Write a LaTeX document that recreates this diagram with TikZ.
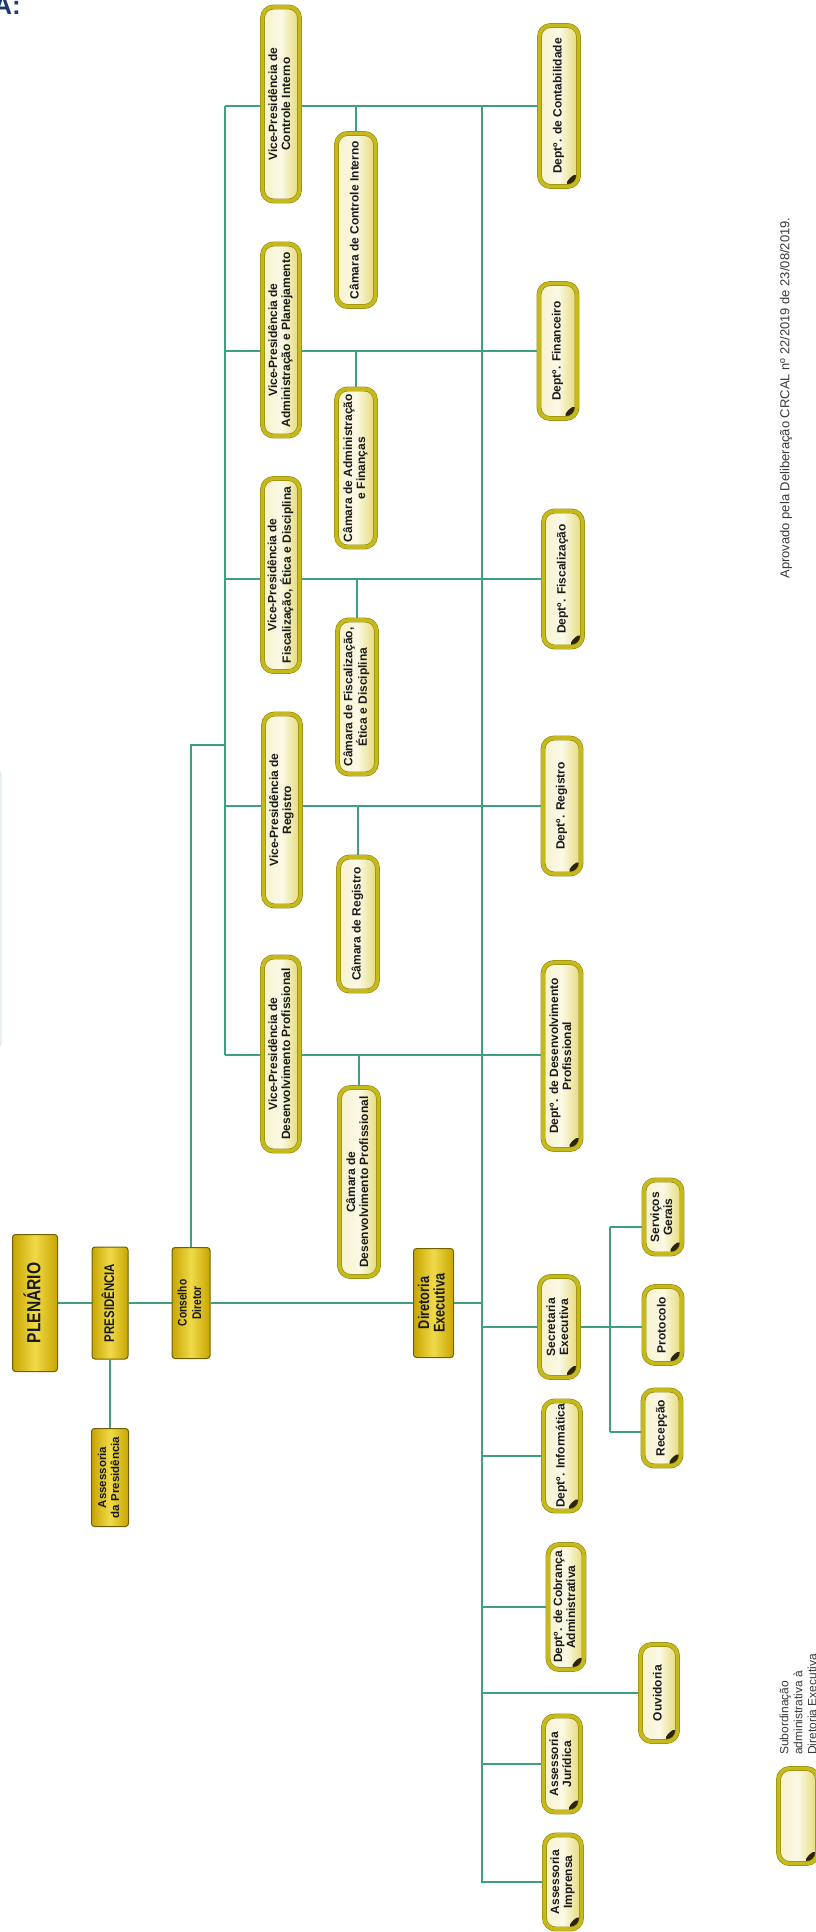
\documentclass[tikz,border=0pt]{standalone}
\usepackage{fontspec}
\setmainfont{Liberation Sans}
\newfontfamily\narrowfont[FakeStretch=0.82]{Liberation Sans}
\usepackage{graphicx}
\usetikzlibrary{calc}
\definecolor{connc}{HTML}{3FA07D}
\definecolor{pillline}{HTML}{8F850A}
\definecolor{pillborder}{HTML}{C6B91C}
\definecolor{pillL}{HTML}{F7F2CC}
\definecolor{pillM}{HTML}{FBF9E6}
\definecolor{pillR}{HTML}{E4D974}
\definecolor{goldL}{HTML}{C8A500}
\definecolor{goldM}{HTML}{F0DA4A}
\definecolor{goldline}{HTML}{6E6000}
\definecolor{cornerc}{HTML}{2B2410}
\definecolor{navy}{HTML}{1C3B70}
\definecolor{greytext}{HTML}{3A3A3A}
\definecolor{faintc}{HTML}{DCEAE4}
\definecolor{boxtextc}{HTML}{1A1A1A}
\pgfdeclarelayer{bg}
\pgfsetlayers{bg,main}
\newcommand{\boxtext}[3]{\rotatebox{90}{\fontsize{#1}{#2}\selectfont\begin{tabular}{@{}c@{}}#3\end{tabular}}}
\tikzset{
  pill/.style={rectangle, rounded corners=11pt, inner sep=0pt, draw=pillline, double=pillborder, double distance=3.6pt, line width=0.6pt, left color=pillL, right color=pillR, middle color=pillM, font=\bfseries, text=boxtextc},
  subbox/.style={pill, path picture={\fill[cornerc] ([xshift=-17pt]path picture bounding box.south east) -- ([yshift=17pt]path picture bounding box.south east) -- (path picture bounding box.south east) -- cycle;}},
  gold/.style={rectangle, rounded corners=3pt, inner sep=0pt, draw=goldline, line width=1pt, left color=goldL, right color=goldL, middle color=goldM, font=\narrowfont\bfseries, text=boxtextc},
  conn/.style={draw=connc, line width=2.2pt},
}
\begin{document}
\begin{tikzpicture}[x=1pt,y=-1pt]
\useasboundingbox (0,0) rectangle (815,1932);
\begin{pgfonlayer}{bg}
\fill[white] (0,0) rectangle (815,1932);
\end{pgfonlayer}

% heading fragment (cut off at the page edge, as in the reference)
\node[anchor=base east, font=\fontsize{26}{26}\selectfont\bfseries, text=navy, inner sep=0pt] (hdr) at (21,15) {A:};
\draw[faintc, line width=1.2pt, rounded corners=8pt] (-30,768) -- (1,768) -- (1,1050) -- (-30,1050);

% top level
\node[gold, minimum width=45pt, minimum height=137pt] (plen) at (35,1303) {\boxtext{19}{20}{PLENÁRIO}};
\node[gold, minimum width=36pt, minimum height=112pt] (pres) at (110,1303) {\boxtext{14}{15}{PRESIDÊNCIA}};
\node[gold, minimum width=38pt, minimum height=111pt] (cons) at (191,1303) {\boxtext{12.5}{14.5}{Conselho\\Diretor}};
\node[gold, minimum width=40pt, minimum height=109pt] (dire) at (433.5,1303) {\boxtext{15.5}{15}{Diretoria\\Executiva}};
\node[gold, font=\bfseries, minimum width=37pt, minimum height=98pt] (asspres) at (110,1477.5) {\boxtext{11.5}{13}{Assessoria\\da Presidência}};

% vice-presidencias
\node[pill, minimum width=37pt, minimum height=194pt] (vpci) at (281,104) {\boxtext{12}{13}{Vice-Presidência de\\Controle Interno}};
\node[pill, minimum width=37pt, minimum height=192pt] (vpap) at (281,340) {\boxtext{12}{13}{Vice-Presidência de\\Administração e Planejamento}};
\node[pill, minimum width=37pt, minimum height=193pt] (vpfi) at (281,575) {\boxtext{12}{13}{Vice-Presidência de\\Fiscalização, Ética e Disciplina}};
\node[pill, minimum width=37pt, minimum height=192pt] (vpre) at (282,810) {\boxtext{12}{13}{Vice-Presidência de\\Registro}};
\node[pill, minimum width=37pt, minimum height=194pt] (vpdp) at (281,1054) {\boxtext{12}{13}{Vice-Presidência de\\Desenvolvimento Profissional}};

% camaras
\node[pill, minimum width=39pt, minimum height=173pt] (cci) at (356,220) {\boxtext{12}{13}{Câmara de Controle Interno}};
\node[pill, minimum width=39pt, minimum height=158pt] (caf) at (356,468) {\boxtext{12}{13}{Câmara de Administração\\e Finanças}};
\node[pill, minimum width=39pt, minimum height=154pt] (cfi) at (357,697) {\boxtext{12}{13}{Câmara de Fiscalização,\\Ética e Disciplina}};
\node[pill, minimum width=39pt, minimum height=134pt] (cre) at (358,924) {\boxtext{12}{13}{Câmara de Registro}};
\node[pill, minimum width=39pt, minimum height=189pt] (cdp) at (359,1182) {\boxtext{12}{13}{Câmara de\\Desenvolvimento Profissional}};

% departamentos
\node[subbox, minimum width=39pt, minimum height=161pt] (dco) at (559,106) {\boxtext{12}{13}{Deptº. de Contabilidade}};
\node[subbox, minimum width=38pt, minimum height=135pt] (dfi) at (558,351) {\boxtext{12}{13}{Deptº. Financeiro}};
\node[subbox, minimum width=39pt, minimum height=136pt] (dfs) at (563,579) {\boxtext{12}{13}{Deptº. Fiscalização}};
\node[subbox, minimum width=38pt, minimum height=136pt] (dre) at (562,806) {\boxtext{12}{13}{Deptº. Registro}};
\node[subbox, minimum width=38pt, minimum height=187pt] (ddp) at (562,1056) {\boxtext{12}{13}{Deptº. de Desenvolvimento\\Profissional}};

% diretoria executiva subordinates
\node[subbox, minimum width=39pt, minimum height=101pt] (sec) at (559,1327) {\boxtext{12}{13}{Secretaria\\Executiva}};
\node[subbox, minimum width=38pt, minimum height=74pt] (ser) at (663,1217) {\boxtext{12}{13}{Serviços\\Gerais}};
\node[subbox, minimum width=38pt, minimum height=77pt] (pro) at (663,1325) {\boxtext{12}{13}{Protocolo}};
\node[subbox, minimum width=38pt, minimum height=76pt] (rec) at (662,1428) {\boxtext{12}{13}{Recepção}};
\node[subbox, minimum width=37pt, minimum height=110pt] (din) at (562,1456) {\boxtext{12}{13}{Deptº. Informática}};
\node[subbox, minimum width=36pt, minimum height=125pt] (dcb) at (566,1607) {\boxtext{12}{13}{Deptº. de Cobrança\\Administrativa}};
\node[subbox, minimum width=37pt, minimum height=97pt] (ouv) at (659,1693) {\boxtext{12}{13}{Ouvidoria}};
\node[subbox, minimum width=37pt, minimum height=96pt] (ajr) at (562,1764) {\boxtext{12}{13}{Assessoria\\Jurídica}};
\node[subbox, minimum width=37pt, minimum height=94pt] (aim) at (563,1882) {\boxtext{12}{13}{Assessoria\\Imprensa}};

% legend and note
\node[subbox, minimum width=39pt, minimum height=95pt] (leg) at (798,1816) {};
\node[rotate=90, anchor=west, align=left, inner sep=0pt, font=\fontsize{12}{14}\selectfont, text=greytext] (legt) at (798,1755) {Subordinação\\administrativa à\\Diretoria Executiva};
\node[rotate=90, inner sep=0pt, font=\fontsize{13}{15}\selectfont, text=greytext] (appr) at (786,398) {Aprovado pela Deliberação CRCAL nº 22/2019 de 23/08/2019.};

% junction coordinates
\coordinate (lb1) at (225,106);
\coordinate (lb2) at (225,351);
\coordinate (lb3) at (225,579);
\coordinate (lb4) at (225,806);
\coordinate (lb5) at (225,1055);
\coordinate (lbj) at (225,745);
\coordinate (cj) at (191,745);
\coordinate (rbt) at (482,106);
\coordinate (rbb) at (482,1883);
\coordinate (sb1) at (610,1227);
\coordinate (sb2) at (610,1432);

\begin{pgfonlayer}{bg}
\draw[conn] (plen) -- (pres) -- (cons) -- (dire) -- (rbb |- dire);
\draw[conn] (pres) -- (asspres);
\draw[conn] (cons) -- (cj) -- (lbj);
\draw[conn] (lb1) -- (lb5);
\draw[conn] (rbt) -- (rbb);
\draw[conn] (lb1) -- (dco.west |- lb1);
\draw[conn] (lb2) -- (dfi.west |- lb2);
\draw[conn] (lb3) -- (dfs.west |- lb3);
\draw[conn] (lb4) -- (dre.west |- lb4);
\draw[conn] (lb5) -- (ddp.west |- lb5);
\draw[conn] (cci) -- (cci |- lb1);
\draw[conn] (caf) -- (caf |- lb2);
\draw[conn] (cfi) -- (cfi |- lb3);
\draw[conn] (cre) -- (cre |- lb4);
\draw[conn] (cdp) -- (cdp |- lb5);
\draw[conn] (rbb |- sec) -- (sec);
\draw[conn] (sec) -- (sec -| pro.west);
\draw[conn] (sb1) -- (sb2);
\draw[conn] (sb1) -- (ser.west |- sb1);
\draw[conn] (sb2) -- (rec.west |- sb2);
\draw[conn] (rbb |- din) -- (din);
\draw[conn] (rbb |- dcb) -- (dcb);
\draw[conn] (rbb |- ouv) -- (ouv);
\draw[conn] (rbb |- ajr) -- (ajr);
\draw[conn] (rbb |- aim) -- (aim);
\end{pgfonlayer}
\end{tikzpicture}
\end{document}
